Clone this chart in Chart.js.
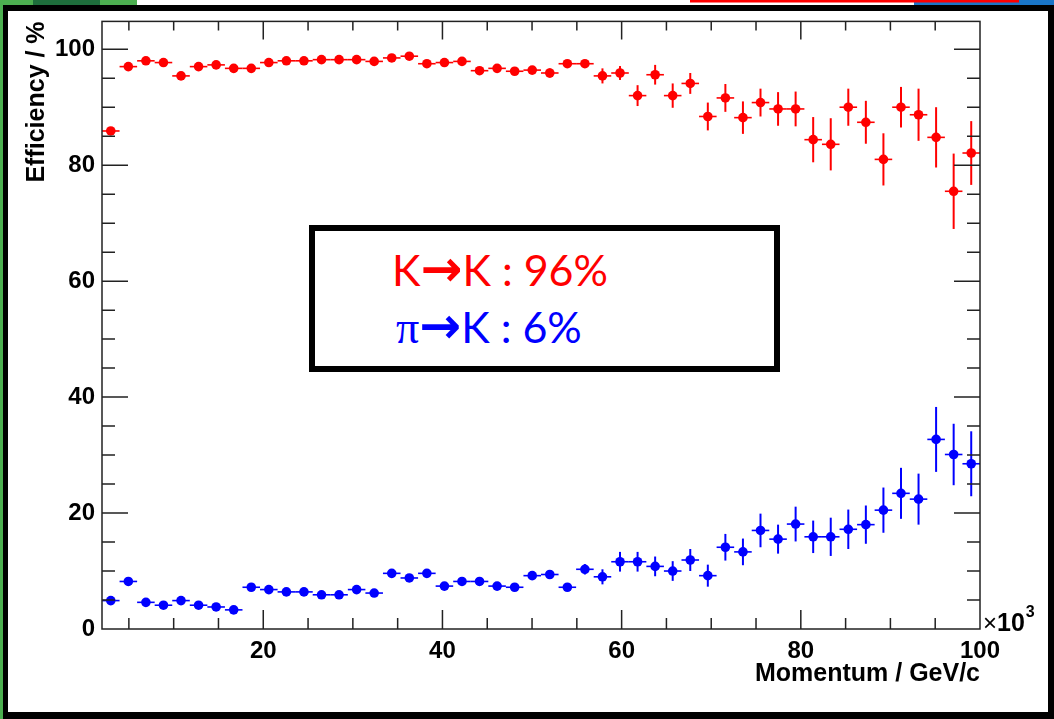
<!DOCTYPE html>
<html>
<head>
<meta charset="utf-8">
<script src="https://cdn.jsdelivr.net/npm/chart.js@4.4.1/dist/chart.umd.min.js"></script>
<style>
    html, body { margin: 0; padding: 0; background: #fff; }
    #wrap { position: relative; width: 1054px; height: 719px; overflow: hidden; }
    #note {
        position: absolute; left: 309px; top: 225px; width: 459px; height: 135px;
        border: 6px solid #000; background: #fff;
        font-family: Lato, 'Noto Sans', sans-serif; font-size: 43px; line-height: 1;
    }
    #note div { position: absolute; white-space: nowrap; }
    .arrow { font-family: 'DejaVu Sans'; font-weight: bold; font-size: 50px; line-height: 0; }
    .pi { font-family: 'Liberation Serif'; font-size: 46px; line-height: 0; }
</style>
</head>
<body>
<div id="wrap">
    <canvas id="chart" width="1054" height="719"></canvas>
    <div id="note">
        <div style="left:77px; top:17px; color:#ff0000;">K<span class="arrow">→</span>K : 96%</div>
        <div style="left:81px; top:74px; color:#0000ff;"><span class="pi">π</span><span class="arrow">→</span>K : 6%</div>
    </div>
</div>
<script>
'use strict';

// momentum bin centres (x10^3), 50 bins from 2 to 100
const binCenters = [2.98, 4.94, 6.90, 8.86, 10.82, 12.78, 14.74, 16.70, 18.66, 20.62,
    22.58, 24.54, 26.50, 28.46, 30.42, 32.38, 34.34, 36.30, 38.26, 40.22,
    42.18, 44.14, 46.10, 48.06, 50.02, 51.98, 53.94, 55.90, 57.86, 59.82,
    61.78, 63.74, 65.70, 67.66, 69.62, 71.58, 73.54, 75.50, 77.46, 79.42,
    81.38, 83.34, 85.30, 87.26, 89.22, 91.18, 93.14, 95.10, 97.06, 99.02];
const binHalfWidth = 0.98;

// K -> K efficiency (%)
const kaonEff = [85.9, 97.0, 98.0, 97.7, 95.4, 97.0, 97.3, 96.7, 96.7, 97.7,
    98.0, 98.0, 98.2, 98.2, 98.2, 97.9, 98.5, 98.8, 97.5, 97.7,
    97.9, 96.3, 96.7, 96.2, 96.4, 95.9, 97.5, 97.5, 95.4, 95.9,
    92.0, 95.6, 92.0, 94.1, 88.4, 91.6, 88.2, 90.8, 89.7, 89.7,
    84.4, 83.6, 90.0, 87.4, 81.0, 90.0, 88.7, 84.8, 75.5, 82.1];
const kaonErr = [0.4, 0.3, 0.3, 0.3, 0.4, 0.3, 0.3, 0.3, 0.3, 0.3,
    0.3, 0.3, 0.3, 0.3, 0.3, 0.3, 0.3, 0.3, 0.4, 0.4,
    0.4, 0.4, 0.5, 0.5, 0.6, 0.8, 0.6, 0.6, 1.3, 1.2,
    1.8, 1.7, 2.1, 1.8, 2.4, 2.4, 2.8, 2.4, 2.9, 3.0,
    3.9, 4.5, 3.2, 3.7, 4.5, 3.5, 4.5, 5.2, 6.5, 5.5];

// pi -> K misidentification (%)
const pionEff = [4.9, 8.2, 4.6, 4.1, 4.9, 4.1, 3.8, 3.3, 7.2, 6.8,
    6.4, 6.4, 5.9, 5.9, 6.8, 6.2, 9.6, 8.8, 9.6, 7.4,
    8.2, 8.2, 7.4, 7.2, 9.2, 9.4, 7.2, 10.3, 9.0, 11.6,
    11.6, 10.8, 10.0, 11.9, 9.2, 14.1, 13.3, 17.0, 15.5, 18.1,
    15.9, 15.9, 17.2, 18.0, 20.5, 23.4, 22.4, 32.7, 30.1, 28.5];
const pionErr = [0.3, 0.4, 0.3, 0.3, 0.3, 0.3, 0.3, 0.4, 0.3, 0.3,
    0.3, 0.3, 0.3, 0.3, 0.3, 0.3, 0.4, 0.4, 0.4, 0.4,
    0.4, 0.4, 0.4, 0.5, 0.5, 0.6, 0.6, 0.9, 1.3, 1.7,
    1.7, 1.7, 1.7, 1.9, 1.9, 2.3, 2.3, 2.9, 2.5, 3.0,
    2.8, 3.3, 3.4, 3.3, 3.9, 4.4, 4.4, 5.6, 5.3, 5.6];

const xTickLabels = [20, 40, 60, 80, 100];
const yTickLabels = [0, 20, 40, 60, 80, 100];
const minorStep = 5;

const RED = '#ff0000';
const BLUE = '#0000ff';
const labelFont = { family: 'Liberation Sans', weight: 'bold', size: 24 };
const titleFont = { family: 'Liberation Sans', weight: 'bold', size: 25 };

const slideBackground = {
    id: 'slideBackground',
    beforeDraw(chart) {
        const ctx = chart.ctx;
        const w = chart.width, h = chart.height;
        ctx.save();
        ctx.fillStyle = '#fff';
        ctx.fillRect(0, 0, w, h);
        // bits of the slide around the picture
        ctx.fillStyle = '#4caf50';
        ctx.fillRect(0, 0, 137, 5);
        ctx.fillRect(0, 0, 3, h);
        ctx.fillStyle = '#1e6e3c';
        ctx.fillRect(33, 0, 67, 5);
        ctx.fillStyle = '#1976c8';
        ctx.fillRect(914, 0, w - 914, 5);
        ctx.fillStyle = RED;
        ctx.fillRect(690, 0, 329, 2.5);
        // black picture border
        ctx.fillStyle = '#000';
        ctx.fillRect(3, 5, w - 3, 6);
        ctx.fillRect(3, 5, 5, h - 5);
        ctx.fillRect(w - 6, 5, 6, h - 5);
        ctx.fillRect(3, h - 7, w - 3, 7);
        ctx.restore();
    }
};

const errorBars = {
    id: 'errorBars',
    beforeDatasetsDraw(chart) {
        const ctx = chart.ctx;
        const xs = chart.scales.x, ys = chart.scales.y;
        ctx.save();
        chart.data.datasets.forEach(ds => {
            ctx.strokeStyle = ds.backgroundColor;
            ds.errors.forEach((err, i) => {
                const x = binCenters[i], y = ds.values[i];
                const px = xs.getPixelForValue(x), py = ys.getPixelForValue(y);
                ctx.lineWidth = 1.6;
                ctx.beginPath();
                ctx.moveTo(xs.getPixelForValue(x - binHalfWidth), py);
                ctx.lineTo(xs.getPixelForValue(x + binHalfWidth), py);
                ctx.stroke();
                ctx.lineWidth = 2;
                ctx.beginPath();
                ctx.moveTo(px, ys.getPixelForValue(y - err));
                ctx.lineTo(px, ys.getPixelForValue(y + err));
                ctx.stroke();
            });
        });
        ctx.restore();
    }
};

const rootFrame = {
    id: 'rootFrame',
    afterDraw(chart) {
        const ctx = chart.ctx;
        const a = chart.chartArea;
        const xs = chart.scales.x, ys = chart.scales.y;
        ctx.save();
        ctx.strokeStyle = '#222';
        ctx.lineWidth = 1.5;
        ctx.strokeRect(a.left, a.top, a.right - a.left, a.bottom - a.top);
        ctx.beginPath();
        for (let v = minorStep; v < 100; v += minorStep) {
            const major = xTickLabels.includes(v);
            const px = xs.getPixelForValue(v);
            ctx.moveTo(px, a.bottom);
            ctx.lineTo(px, a.bottom - (major ? 19 : 11));
            ctx.moveTo(px, a.top);
            ctx.lineTo(px, a.top + (major ? 18 : 9));
        }
        for (let v = minorStep; v <= 100; v += minorStep) {
            const major = yTickLabels.includes(v);
            const py = ys.getPixelForValue(v);
            ctx.moveTo(a.left, py);
            ctx.lineTo(a.left + (major ? 26 : 13), py);
            ctx.moveTo(a.right, py);
            ctx.lineTo(a.right - (major ? 26 : 13), py);
        }
        ctx.stroke();

        // x10^3 exponent of the momentum axis
        ctx.fillStyle = '#000';
        ctx.textBaseline = 'alphabetic';
        ctx.font = '24px "Liberation Sans"';
        ctx.fillText('×', a.right + 3, a.bottom + 2);
        const w1 = ctx.measureText('×').width;
        ctx.font = 'bold 25px "Liberation Sans"';
        ctx.fillText('10', a.right + 3 + w1, a.bottom + 2);
        const w2 = ctx.measureText('10').width;
        ctx.font = 'bold 16px "Liberation Sans"';
        ctx.fillText('3', a.right + 4 + w1 + w2, a.bottom - 12);
        ctx.restore();
    }
};

function makeDataset(values, errors, color) {
    return {
        data: binCenters.map((x, i) => ({ x: x, y: values[i] })),
        values: values,
        errors: errors,
        backgroundColor: color,
        borderColor: color,
        borderWidth: 0,
        pointRadius: 4.8,
        pointHoverRadius: 4.8,
        showLine: false
    };
}

new Chart(document.getElementById('chart').getContext('2d'), {
    type: 'scatter',
    data: {
        datasets: [
            makeDataset(kaonEff, kaonErr, RED),
            makeDataset(pionEff, pionErr, BLUE)
        ]
    },
    options: {
        responsive: false,
        animation: false,
        devicePixelRatio: 1,
        layout: { padding: { left: 0, right: 74, top: 20, bottom: 0 } },
        plugins: { legend: { display: false }, tooltip: { enabled: false } },
        scales: {
            x: {
                type: 'linear', min: 2, max: 100,
                grid: { display: false, drawTicks: false },
                border: { display: false },
                afterBuildTicks: s => { s.ticks = xTickLabels.map(v => ({ value: v })); },
                afterFit: s => { s.height = 90; },
                ticks: { font: labelFont, color: '#000', padding: 8, maxRotation: 0, autoSkip: false },
                title: {
                    display: true, text: 'Momentum / GeV/c', align: 'end',
                    font: titleFont, color: '#000', padding: { top: 0, bottom: 30 }
                }
            },
            y: {
                type: 'linear', min: 0, max: 104.8,
                grid: { display: false, drawTicks: false },
                border: { display: false },
                afterBuildTicks: s => { s.ticks = yTickLabels.map(v => ({ value: v })); },
                afterFit: s => { s.width = 102; },
                ticks: { font: labelFont, color: '#000', padding: 7, autoSkip: false },
                title: {
                    display: true, text: 'Efficiency / %', align: 'end',
                    font: titleFont, color: '#000', padding: { top: 22, bottom: 0 }
                }
            }
        }
    },
    plugins: [slideBackground, errorBars, rootFrame]
});
</script>
</body>
</html>
